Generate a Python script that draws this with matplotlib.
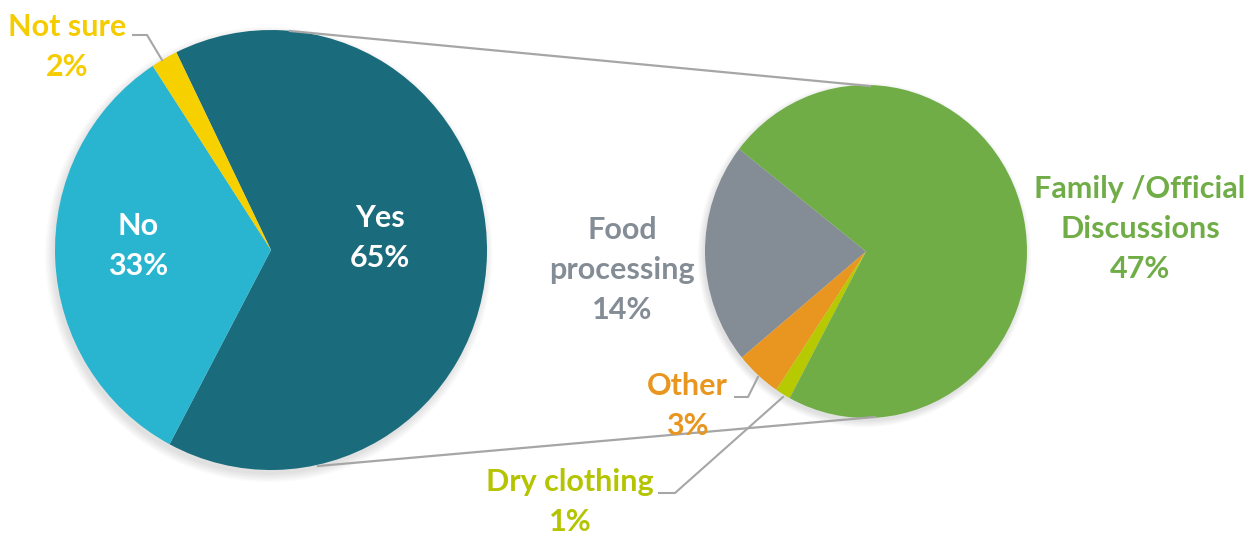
import numpy as np
import matplotlib.pyplot as plt
from matplotlib.patches import Circle

# Survey answers (main pie) and breakdown of the "Yes" answers (second pie)
main_labels = ['Yes', 'No', 'Not sure']
main_values = [65, 33, 2]
main_colors = ['#1a6b7b', '#29b4cf', '#f7d000']

sub_labels = ['Food\nprocessing', 'Other', 'Dry clothing', 'Family /Official\nDiscussions']
sub_values = [14, 3, 1, 47]
sub_colors = ['#848d96', '#e8961f', '#b7c900', '#70ad47']

plt.rcParams['font.family'] = ['Lato', 'DejaVu Sans']

W, H = 1260, 534
fig = plt.figure(figsize=(W / 100, H / 100), dpi=100)
fig.patch.set_facecolor('white')


def pie_axes(left, top, width, height):
    return fig.add_axes([left / W, 1 - (top + height) / H, width / W, height / H])


def soft_shadow(a):
    for k in range(6):
        a.add_patch(Circle((-0.01, -0.02), 1.0 + 0.007 * k, color='black',
                           alpha=0.018, lw=0, clip_on=False, zorder=0))


# left pie
ax1 = pie_axes(55, 30, 432, 440)
soft_shadow(ax1)
ax1.pie(main_values, colors=main_colors, startangle=116, counterclock=False,
        radius=1, wedgeprops=dict(linewidth=0, zorder=2))
ax1.set_aspect('auto')
ax1.set_xlim(-1, 1)
ax1.set_ylim(-1, 1)
ax1.axis('off')

# right pie (breakdown of Yes)
ax2 = pie_axes(705, 85, 322, 333)
soft_shadow(ax2)
ax2.pie(sub_values, colors=sub_colors, startangle=142, counterclock=True,
        radius=1, wedgeprops=dict(linewidth=0, zorder=2))
ax2.set_aspect('auto')
ax2.set_xlim(-1, 1)
ax2.set_ylim(-1, 1)
ax2.axis('off')

# overlay in pixel coordinates for connectors and labels
ax = fig.add_axes([0, 0, 1, 1])
ax.set_xlim(0, W)
ax.set_ylim(H, 0)
ax.axis('off')

line_c = '#a6a6a6'
ax.plot([290, 870], [31, 86], color=line_c, lw=1.6)
ax.plot([318, 875], [466, 417], color=line_c, lw=1.6)

# leader lines
ax.plot([133, 147, 162], [35, 35, 60], color=line_c, lw=1.5)
ax.plot([735, 748, 758], [397, 397, 377], color=line_c, lw=1.5)
ax.plot([659, 675, 783], [493, 493, 397], color=line_c, lw=1.5)

fs = 22
kw = dict(ha='center', va='center', fontsize=fs, fontweight='bold', linespacing=1.52)


def pct(v):
    return f'{v}%'


ax.text(380, 238, f'{main_labels[0]}\n{pct(main_values[0])}', color='white', **kw)
ax.text(138, 246, f'{main_labels[1]}\n{pct(main_values[1])}', color='white', **kw)
ax.text(67, 47, f'{main_labels[2]}\n{pct(main_values[2])}', color='#f5cc00', **kw)

ax.text(622, 270, f'{sub_labels[0]}\n{pct(sub_values[0])}', color='#848d96', **kw)
ax.text(687, 406, f'{sub_labels[1]}\n{pct(sub_values[1])}', color='#e8961f', **kw)
ax.text(570, 502, f'{sub_labels[2]}\n{pct(sub_values[2])}', color='#b5c400', **kw)
ax.text(1140, 229, f'{sub_labels[3]}\n{pct(sub_values[3])}', color='#70ad47', **kw)

fig.savefig('out.png', dpi=100, facecolor='white')
